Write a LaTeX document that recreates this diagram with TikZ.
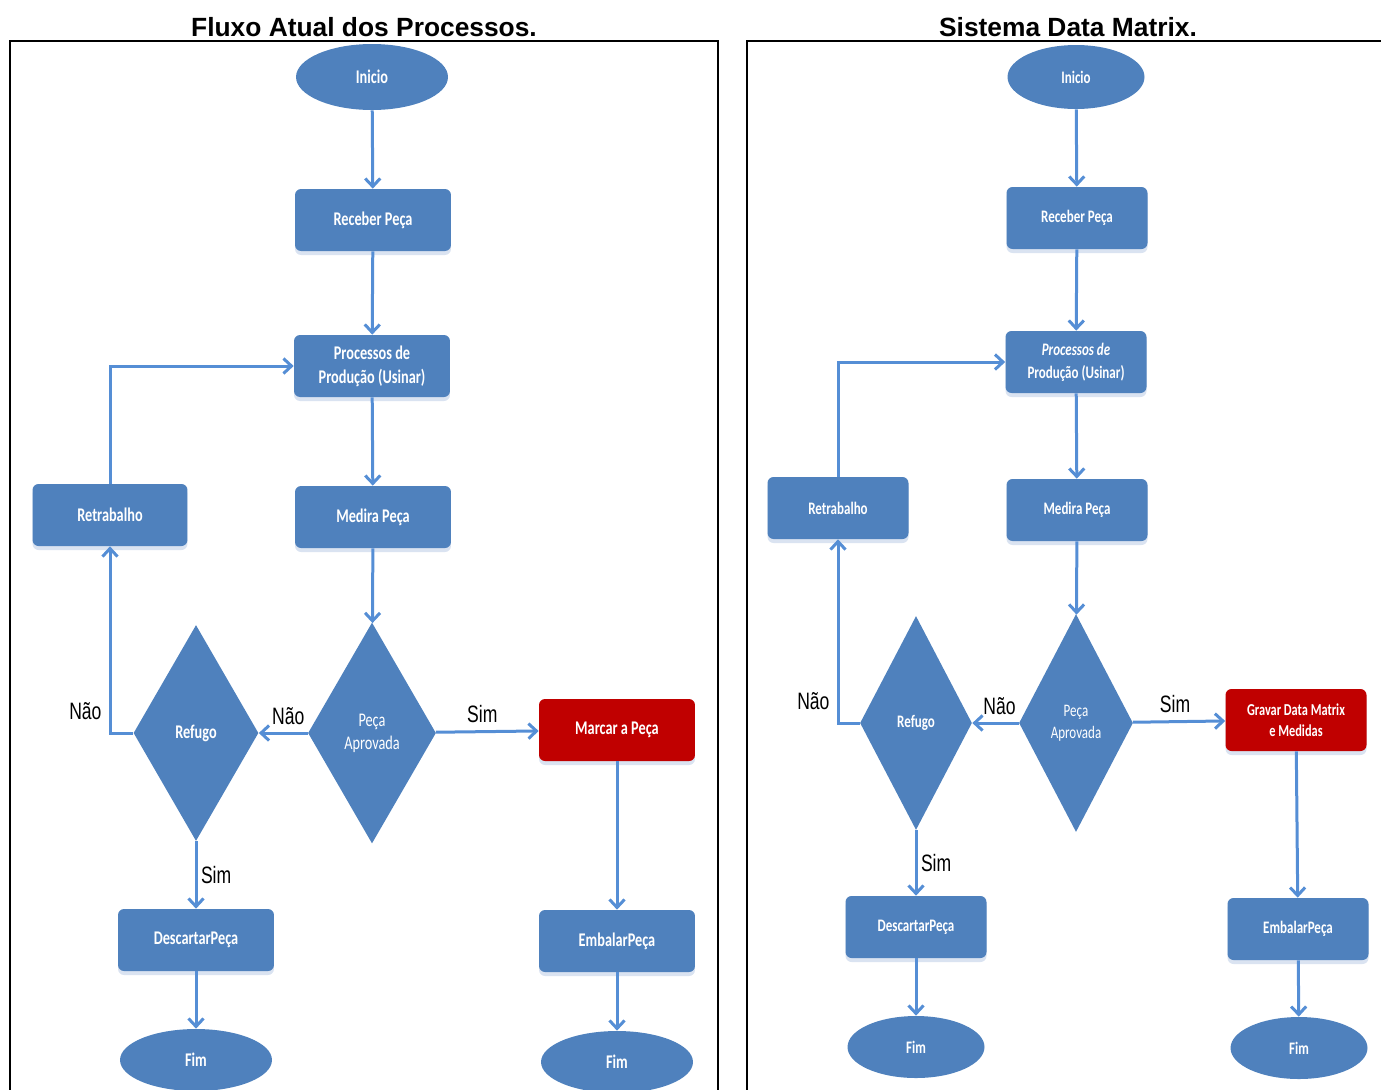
\documentclass[tikz,border=0pt]{standalone}
\usepackage{fontspec}
\usepackage{xcolor}
\usepackage{tikz}
\usetikzlibrary{shapes.geometric, arrows.meta, positioning, calc, shadows}
\setmainfont{Liberation Sans}
\newfontfamily\boxfont[FakeStretch=0.74]{Carlito}
\newfontfamily\labelfont[FakeStretch=0.74]{Liberation Sans}
\definecolor{flowblue}{RGB}{79, 129, 189}
\definecolor{arrowblue}{RGB}{85, 142, 213}
\definecolor{markred}{RGB}{192, 0, 0}
\definecolor{shadowblue}{RGB}{218, 227, 241}

\tikzset{
    procbox/.style={fill=flowblue, rounded corners=0.12cm, text=white, align=center,
        font=\boxfont\bfseries\fontsize{11}{13.6}\selectfont,
        minimum width=3.12cm, minimum height=1.24cm, inner sep=1pt,
        drop shadow={fill=shadowblue, opacity=1, shadow xshift=0cm, shadow yshift=-0.08cm}},
    procboxR/.style={procbox, minimum width=2.82cm, font=\boxfont\bfseries\fontsize{10}{13}\selectfont},
    markbox/.style={procbox, fill=markred},
    markboxR/.style={procboxR, fill=markred},
    termnode/.style={ellipse, fill=flowblue, text=white, inner sep=0pt,
        font=\boxfont\bfseries\fontsize{11}{13}\selectfont,
        minimum width=3.04cm, minimum height=1.32cm},
    termnodeR/.style={termnode, minimum width=2.74cm, minimum height=1.28cm,
        font=\boxfont\bfseries\fontsize{10}{12}\selectfont},
    decision/.style={diamond, fill=flowblue, text=white, inner sep=0pt, align=center,
        font=\boxfont\fontsize{11}{13}\selectfont},
    flow/.style={draw=arrowblue, line width=0.06cm, -{Straight Barb[length=0.16cm, width=0.3cm]}},
    lbl/.style={font=\labelfont\fontsize{13.5}{15}\selectfont, text=black, inner sep=4pt},
    ttl/.style={font=\bfseries\fontsize{15}{18}\selectfont},
    frame/.style={draw=black, line width=0.04cm}
}

\begin{document}
\begin{tikzpicture}[x=0.02cm, y=-0.02cm]
    \useasboundingbox (0,0) rectangle (1381,1089);

    \draw[frame] (10,1100) |- (718,41) -- (718,1100);
    \draw[frame] (747,1100) |- (1390,41);

    \node[ttl] (titleL) at (364,27) {Fluxo Atual dos Processos.};
    \node[termnode] (inicioL) at (372,77) {Inicio};
    \node[procbox] (receberL) at (373,220) {Receber Peça};
    \node[procbox] (producaoL) at (372,366) {Processos de\\Produção (Usinar)};
    \node[procbox] (medirL) at (373,517) {Medira Peça};
    \node[procbox, minimum width=3.1cm] (retrabL) at (110,515) {Retrabalho};
    \node[decision, minimum width=2.56cm, minimum height=4.42cm] (aprovL) at (372,733) {Peça\\Aprovada};
    \node[decision, minimum width=2.5cm, minimum height=4.32cm, font=\boxfont\bfseries\fontsize{11}{13}\selectfont] (refugoL) at (196,733) {Refugo};
    \node[markbox] (marcarL) at (617,730) {Marcar a Peça};
    \node[procbox] (descartL) at (196,940) {DescartarPeça};
    \node[procbox] (embalarL) at (617,941) {EmbalarPeça};
    \node[termnode, minimum height=1.24cm] (fimAL) at (196,1060) {Fim};
    \node[termnode, minimum height=1.24cm] (fimBL) at (617,1062) {Fim};

    \draw[flow] (inicioL) -- (receberL);
    \draw[flow] (receberL) -- (producaoL);
    \draw[flow] (producaoL) -- (medirL);
    \draw[flow] (medirL) -- (aprovL);
    \draw[flow] (aprovL) -- node[lbl, above, xshift=0.1cm]{Não} (refugoL);
    \draw[flow] (aprovL) -- node[lbl, above, xshift=-0.1cm]{Sim} (marcarL);
    \draw[flow] (refugoL.west) -| node[lbl, above left, yshift=0.1cm]{Não} (retrabL.south);
    \draw[flow] (retrabL.north) |- (producaoL.west);
    \draw[flow] (refugoL) -- node[lbl, right, inner sep=2pt]{Sim} (descartL);
    \draw[flow] (descartL) -- (fimAL);
    \draw[flow] (marcarL) -- (embalarL);
    \draw[flow] (embalarL) -- (fimBL);

    \node[ttl] (titleR) at (1068,27) {Sistema Data Matrix.};
    \node[termnodeR] (inicioR) at (1076,77) {Inicio};
    \node[procboxR] (receberR) at (1077,218) {Receber Peça};
    \node[procboxR] (producaoR) at (1076,362) {\itshape Processos de\\Produção (Usinar)};
    \node[procboxR] (medirR) at (1077,510) {Medira Peça};
    \node[procboxR] (retrabR) at (838,508) {Retrabalho};
    \node[decision, minimum width=2.28cm, minimum height=4.36cm, font=\boxfont\fontsize{10}{12.5}\selectfont] (aprovR) at (1076,723) {Peça\\Aprovada};
    \node[decision, minimum width=2.24cm, minimum height=4.28cm, font=\boxfont\bfseries\fontsize{10}{12}\selectfont] (refugoR) at (916,723) {Refugo};
    \node[markboxR, font=\boxfont\bfseries\fontsize{9.5}{12}\selectfont] (gravarR) at (1296,720) {Gravar Data Matrix\\e Medidas};
    \node[procboxR] (descartR) at (916,927) {DescartarPeça};
    \node[procboxR] (embalarR) at (1298,929) {EmbalarPeça};
    \node[termnodeR, minimum height=1.24cm] (fimAR) at (916,1047) {Fim};
    \node[termnodeR, minimum height=1.24cm] (fimBR) at (1299,1048) {Fim};

    \draw[flow] (inicioR) -- (receberR);
    \draw[flow] (receberR) -- (producaoR);
    \draw[flow] (producaoR) -- (medirR);
    \draw[flow] (medirR) -- (aprovR);
    \draw[flow] (aprovR) -- node[lbl, above, xshift=0.08cm]{Não} (refugoR);
    \draw[flow] (aprovR) -- node[lbl, above, xshift=-0.08cm]{Sim} (gravarR);
    \draw[flow] (refugoR.west) -| node[lbl, above left, yshift=0.1cm]{Não} (retrabR.south);
    \draw[flow] (retrabR.north) |- (producaoR.west);
    \draw[flow] (refugoR) -- node[lbl, right, inner sep=2pt]{Sim} (descartR);
    \draw[flow] (descartR) -- (fimAR);
    \draw[flow] (gravarR) -- (embalarR);
    \draw[flow] (embalarR) -- (fimBR);
\end{tikzpicture}
\end{document}
